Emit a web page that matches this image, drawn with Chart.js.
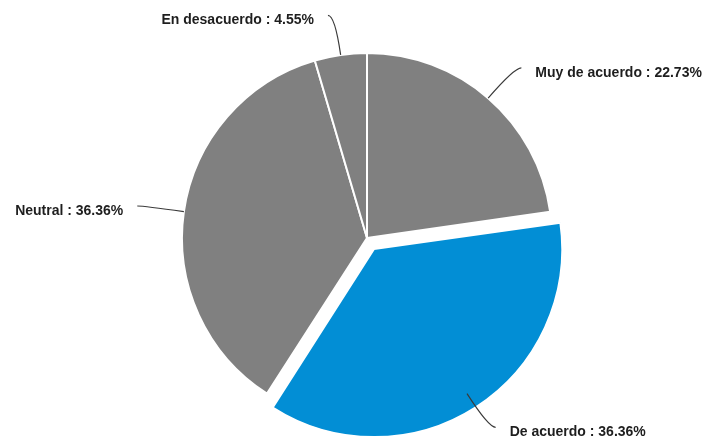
<!DOCTYPE html>
<html>
  <head>
    <title>Encuesta</title>
    <meta charset="utf-8" />
    <style>
      body { margin: 0; background: #fff; }
      #chart-container { width: 711px; height: 444px; }
    </style>
  </head>
  <body>
    <div id="chart-container">
      <canvas id="pie-chart"></canvas>
    </div>

    <script src="https://cdn.jsdelivr.net/npm/chart.js"></script>
    <script>
      var categories = ["Muy de acuerdo", "De acuerdo", "Neutral", "En desacuerdo"];
      var percentages = [22.73, 36.36, 36.36, 4.55];
      var sliceColors = ["#808080", "#028ed5", "#808080", "#808080"];
      var sliceOffsets = [0, 52, 0, 0];

      // leader lines and "Name : 00.00%" labels outside the pie
      var outsideLabels = {
        id: "outsideLabels",
        afterDatasetsDraw: function (chart) {
          var ctx = chart.ctx;
          var arcs = chart.getDatasetMeta(0).data;
          ctx.save();
          ctx.font = 'bold 14px "Liberation Sans", Arial, sans-serif';
          ctx.textBaseline = "middle";
          arcs.forEach(function (arc, i) {
            var mid = (arc.startAngle + arc.endAngle) / 2;
            var dx = Math.cos(mid);
            var dy = Math.sin(mid);
            var r = arc.outerRadius;
            var side = dx >= 0 ? 1 : -1;
            var x0 = arc.x + dx * r;
            var y0 = arc.y + dy * r;
            var x1 = arc.x + dx * (r + 40);
            var y1 = arc.y + dy * (r + 40);
            var x2 = x1 + side * 7;
            var y2 = y1;

            ctx.beginPath();
            ctx.moveTo(x0, y0);
            ctx.quadraticCurveTo(x1, y1, x2, y2);
            ctx.strokeStyle = "#3a3a3a";
            ctx.lineWidth = 1.2;
            ctx.stroke();

            ctx.fillStyle = "#1e1e1e";
            ctx.textAlign = side > 0 ? "left" : "right";
            var text = categories[i] + " : " + percentages[i].toFixed(2) + "%";
            ctx.fillText(text, x2 + side * 14, y2 + 5);
          });
          ctx.restore();
        },
      };

      new Chart(document.getElementById("pie-chart"), {
        type: "pie",
        data: {
          labels: categories,
          datasets: [
            {
              data: percentages,
              backgroundColor: sliceColors,
              borderColor: "#ffffff",
              borderWidth: 2,
              offset: sliceOffsets,
              hoverOffset: 0,
              radius: 185,
            },
          ],
        },
        options: {
          responsive: true,
          maintainAspectRatio: false,
          animation: false,
          events: [],
          layout: { padding: { left: 23, right: 0, top: 32, bottom: 0 } },
          plugins: {
            legend: { display: false },
            tooltip: { enabled: false },
          },
        },
        plugins: [outsideLabels],
      });
    </script>
  </body>
</html>
